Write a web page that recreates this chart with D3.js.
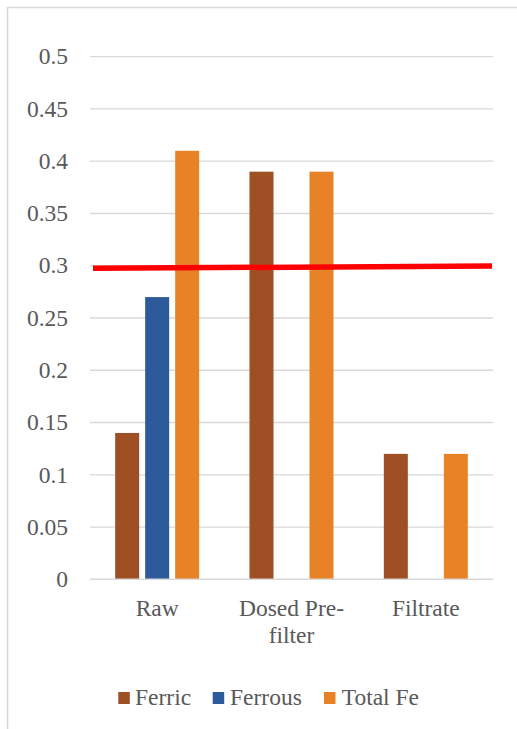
<!DOCTYPE html>
<html>
<head>
<meta charset="utf-8">
<script src="https://cdn.jsdelivr.net/npm/d3@7"></script>
<style>
  html, body { margin: 0; padding: 0; background: #fff; }
  svg { display: block; }
</style>
</head>
<body>
<svg id="chart" width="517" height="729"></svg>
<script>
// Iron species by sampling point (mg/L)
const categories = ["Raw", "Dosed Pre-filter", "Filtrate"];
const seriesNames = ["Ferric", "Ferrous", "Total Fe"];
const ferric = [0.14, 0.39, 0.12];
const ferrous = [0.27, null, null];
const totalFe = [0.41, 0.39, 0.12];
const yTicks = [0, 0.05, 0.1, 0.15, 0.2, 0.25, 0.3, 0.35, 0.4, 0.45, 0.5];
const yTickLabels = ["0", "0.05", "0.1", "0.15", "0.2", "0.25", "0.3", "0.35", "0.4", "0.45", "0.5"];
// guideline drawn across the plot (start / end value)
const limitLine = [0.2975, 0.2998];

const colors = { "Ferric": "#9E4F23", "Ferrous": "#2C5A9B", "Total Fe": "#E88226" };
const seriesValues = { "Ferric": ferric, "Ferrous": ferrous, "Total Fe": totalFe };

const svg = d3.select("#chart")
  .attr("font-family", "'Liberation Serif', Tinos, 'Times New Roman', 'DejaVu Serif', serif");
const textColor = "#595959";

// pick a font size so "Filtrate" spans about 68px in whichever serif is available
const probe = svg.append("text").attr("font-size", 100).text("Filtrate");
const fontSize = Math.min(23.5, 100 * 68 / probe.node().getComputedTextLength());
probe.remove();

// outer chart frame
svg.append("rect")
  .attr("x", 7.5).attr("y", 7.5)
  .attr("width", 560).attr("height", 760)
  .attr("fill", "none").attr("stroke", "#d9d9d9").attr("stroke-width", 1.5);

const plot = { left: 90, right: 493, top: 56.7, bottom: 579.3 };

const y = d3.scaleLinear().domain([0, 0.5]).range([plot.bottom, plot.top]);
const x0 = d3.scaleBand().domain(categories).range([plot.left, plot.right]).padding(0);
const groupW = 84;
const x1 = d3.scaleBand().domain(seriesNames).range([0, groupW]).paddingInner(0.2).paddingOuter(0);

// horizontal gridlines
svg.append("g").selectAll("line").data(yTicks.filter(t => t > 0)).join("line")
  .attr("x1", plot.left).attr("x2", plot.right)
  .attr("y1", d => y(d)).attr("y2", d => y(d))
  .attr("stroke", "#d9d9d9").attr("stroke-width", 1.3);

// y axis tick labels
svg.append("g").selectAll("text").data(yTicks).join("text")
  .attr("x", 68).attr("y", d => y(d))
  .attr("dy", "0.33em")
  .attr("text-anchor", "end")
  .attr("font-size", fontSize)
  .attr("fill", textColor)
  .text((d, i) => yTickLabels[i]);

// bars
const groups = svg.append("g").selectAll("g").data(categories).join("g")
  .attr("transform", c => `translate(${x0(c) + (x0.bandwidth() - groupW) / 2},0)`);

groups.selectAll("rect")
  .data((c, ci) => seriesNames.map(s => ({ s, v: seriesValues[s][ci] })).filter(d => d.v != null))
  .join("rect")
  .attr("x", d => x1(d.s))
  .attr("width", x1.bandwidth())
  .attr("y", d => y(d.v))
  .attr("height", d => y(0) - y(d.v))
  .attr("fill", d => colors[d.s]);

// category axis line
svg.append("line")
  .attr("x1", plot.left).attr("x2", plot.right)
  .attr("y1", y(0)).attr("y2", y(0))
  .attr("stroke", "#d9d9d9").attr("stroke-width", 1.5);

// category labels (wrapped)
const catLines = { "Raw": ["Raw"], "Dosed Pre-filter": ["Dosed Pre-", "filter"], "Filtrate": ["Filtrate"] };
const catLabels = svg.append("g").selectAll("text").data(categories).join("text")
  .attr("text-anchor", "middle")
  .attr("font-size", fontSize)
  .attr("fill", textColor)
  .attr("x", c => x0(c) + x0.bandwidth() / 2)
  .attr("y", 616.3);
catLabels.selectAll("tspan").data(c => catLines[c].map(t => ({ t, c }))).join("tspan")
  .attr("x", d => x0(d.c) + x0.bandwidth() / 2)
  .attr("dy", (d, i) => i === 0 ? 0 : 27)
  .text(d => d.t);

// red guideline
svg.append("line")
  .attr("x1", plot.left + 3).attr("x2", plot.right - 1)
  .attr("y1", y(limitLine[0])).attr("y2", y(limitLine[1]))
  .attr("stroke", "#FF0000").attr("stroke-width", 5.5);

// legend
const legendItems = [
  { s: "Ferric", sx: 118.3, tx: 135 },
  { s: "Ferrous", sx: 212.7, tx: 230 },
  { s: "Total Fe", sx: 324, tx: 341.7 }
];
const lg = svg.append("g");
lg.selectAll("rect").data(legendItems).join("rect")
  .attr("x", d => d.sx).attr("y", 692)
  .attr("width", 11.5).attr("height", 12)
  .attr("fill", d => colors[d.s]);
lg.selectAll("text").data(legendItems).join("text")
  .attr("x", d => d.tx).attr("y", 705)
  .attr("font-size", fontSize)
  .attr("fill", textColor)
  .text(d => d.s);
</script>
</body>
</html>
